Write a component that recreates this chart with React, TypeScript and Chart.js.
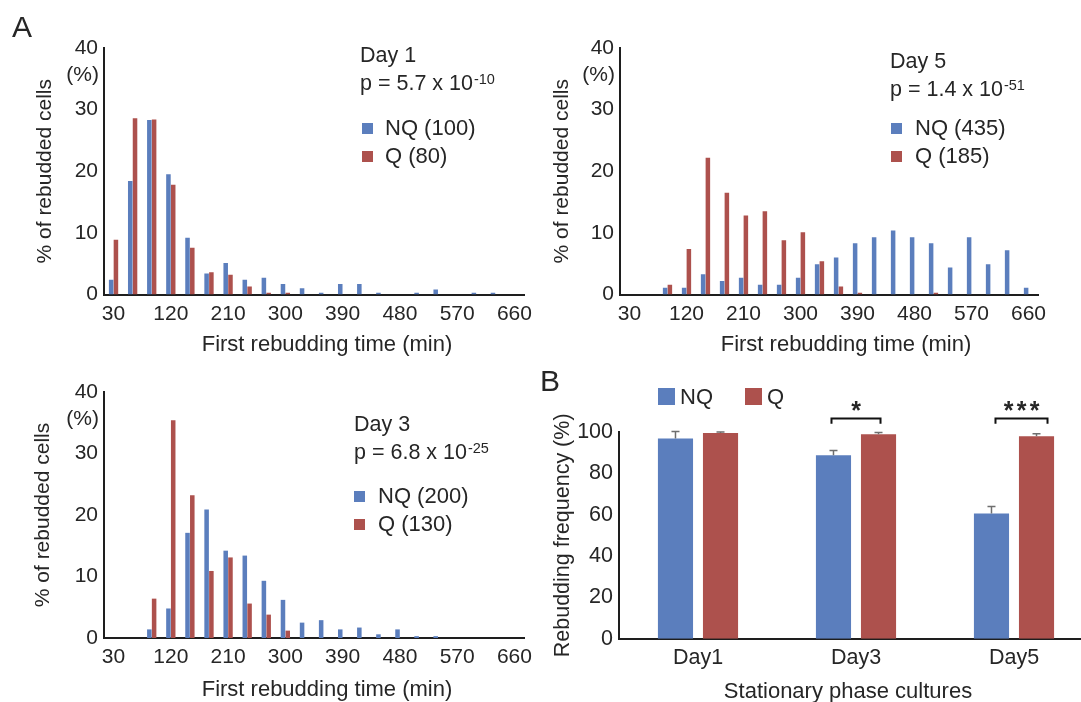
import React, { useEffect, useRef } from 'react';
import { Chart, registerables } from 'chart.js';

Chart.register(...registerables);

const FONT = '"Liberation Sans", Arial, Helvetica, sans-serif';
const TEXT = '#262626';
const AXIS = '#1e1e1e';
const BLUE = '#5b7ebd';
const RED = '#ad514d';
const ERR = '#6e6e6e';

// ---- Panel A data: % of rebudded cells per 30-min bin ----
const timeBins = ['30', '60', '90', '120', '150', '180', '210', '240', '270', '300', '330', '360', '390', '420', '450', '480', '510', '540', '570', '600', '630', '660'];
const histTicks = [0, 10, 20, 30, 40];

const day1NQ = [2.4, 18.4, 28.3, 19.5, 9.2, 3.4, 5.1, 2.4, 2.7, 1.7, 1.0, 0.3, 1.7, 1.7, 0.3, 0, 0.3, 0.8, 0, 0.3, 0.3, 0];
const day1Q = [8.9, 28.6, 28.4, 17.8, 7.6, 3.6, 3.2, 1.3, 0.3, 0.3, 0, 0, 0, 0, 0, 0, 0, 0, 0, 0, 0, 0];

const day5NQ = [0, 0, 1.1, 1.1, 3.3, 2.2, 2.7, 1.6, 1.6, 2.7, 4.9, 6.0, 8.3, 9.3, 10.4, 9.3, 8.3, 4.4, 9.3, 4.9, 7.2, 1.1];
const day5Q = [0, 0, 1.6, 7.4, 22.2, 16.5, 12.8, 13.5, 8.8, 10.1, 5.4, 1.3, 0.3, 0, 0, 0, 0.3, 0, 0, 0, 0, 0];

const day3NQ = [0, 0, 1.4, 4.8, 17.1, 20.9, 14.2, 13.4, 9.3, 6.2, 2.5, 2.9, 1.4, 1.7, 0.6, 1.4, 0.3, 0.3, 0, 0, 0, 0];
const day3Q = [0, 0, 6.4, 35.4, 23.2, 10.9, 13.1, 5.6, 3.8, 1.2, 0, 0, 0, 0, 0, 0, 0, 0, 0, 0, 0, 0];

// ---- Panel B data: rebudding frequency (%) ----
const stationaryDays = ['Day1', 'Day3', 'Day5'];
const freqNQ = [96.8, 88.7, 60.6];
const freqNQErr = [3.4, 2.4, 3.3];
const freqQ = [99.5, 98.9, 97.9];
const freqQErr = [0.5, 0.8, 1.3];
const freqTicks = [0, 20, 40, 60, 80, 100];
const signif = ['', '*', '***'];

function drawText(ctx: CanvasRenderingContext2D, s: string, x: number, y: number, size: number, align: CanvasTextAlign = 'left', baseline: CanvasTextBaseline = 'middle', weight = 'normal') {
  ctx.font = `${weight} ${size}px ${FONT}`;
  ctx.fillStyle = TEXT;
  ctx.textAlign = align;
  ctx.textBaseline = baseline;
  ctx.fillText(s, x, y);
}

type Box = { left: number; top: number; width: number; height: number };
type Area = { left: number; top: number; right: number; bottom: number };

interface HistSpec {
  box: Box;
  area: Area;
  yTitleX: number;
  xTitle: { x: number; y: number };
  nq: number[];
  q: number[];
  nqLabel: string;
  qLabel: string;
  dayText: string;
  pBase: string;
  pSup: string;
  ann: { x: number; dayY: number; pY: number; sqX: number; sqY1: number; sqY2: number; legX: number };
  panelLetter?: { text: string; x: number; y: number };
}

function histConfig(s: HistSpec): any {
  const { box, area } = s;
  const overlay = {
    id: 'overlay-' + s.dayText.replace(' ', ''),
    afterDraw(chart: any) {
      const ctx: CanvasRenderingContext2D = chart.ctx;
      const ca = chart.chartArea;
      ctx.save();
      drawText(ctx, '(%)', ca.left - 5, ca.top + 27, 21, 'right');
      ctx.translate(-box.left, -box.top);
      drawText(ctx, 'First rebudding time (min)', s.xTitle.x, s.xTitle.y, 22, 'center');
      const a = s.ann;
      drawText(ctx, s.dayText, a.x, a.dayY, 21.5);
      drawText(ctx, s.pBase, a.x, a.pY + 7.5, 21.5, 'left', 'alphabetic');
      ctx.font = `21.5px ${FONT}`;
      const w = ctx.measureText(s.pBase).width;
      drawText(ctx, s.pSup, a.x + w + 1, a.pY + 1, 14.5, 'left', 'alphabetic');
      ctx.fillStyle = BLUE;
      ctx.fillRect(a.sqX, a.sqY1, 11, 11);
      ctx.fillStyle = RED;
      ctx.fillRect(a.sqX, a.sqY2, 11, 11);
      drawText(ctx, s.nqLabel, a.legX, a.sqY1 + 5.5, 22);
      drawText(ctx, s.qLabel, a.legX, a.sqY2 + 5.5, 22);
      if (s.panelLetter) drawText(ctx, s.panelLetter.text, s.panelLetter.x, s.panelLetter.y, 30, 'center');
      ctx.restore();
    },
  };
  return {
    type: 'bar',
    data: {
      labels: timeBins,
      datasets: [
        { label: s.nqLabel, data: s.nq, backgroundColor: BLUE, categoryPercentage: 0.5, barPercentage: 0.95 },
        { label: s.qLabel, data: s.q, backgroundColor: RED, categoryPercentage: 0.5, barPercentage: 0.95 },
      ],
    },
    options: {
      responsive: false,
      animation: false,
      layout: { padding: { left: 0, top: area.top - box.top, right: box.left + box.width - area.right, bottom: 0 } },
      plugins: { legend: { display: false }, tooltip: { enabled: false } },
      scales: {
        x: {
          type: 'category',
          offset: true,
          grid: { display: false, drawTicks: false },
          border: { display: true, color: AXIS, width: 2 },
          ticks: {
            autoSkip: false,
            maxRotation: 0,
            minRotation: 0,
            padding: 7,
            color: TEXT,
            font: { family: FONT, size: 21 },
            callback: (_v: any, i: number) => (i % 3 === 0 ? timeBins[i] : ''),
          },
          title: { display: false, text: 'First rebudding time (min)' },
          afterFit: (sc: any) => {
            sc.height = box.top + box.height - area.bottom;
          },
        },
        y: {
          min: 0,
          max: 40,
          afterBuildTicks: (sc: any) => {
            sc.ticks = histTicks.map((v) => ({ value: v }));
          },
          grid: { display: false, drawTicks: false },
          border: { display: true, color: AXIS, width: 2 },
          ticks: { padding: 6, color: TEXT, font: { family: FONT, size: 21 } },
          title: {
            display: true,
            text: '% of rebudded cells',
            color: TEXT,
            font: { family: FONT, size: 21, lineHeight: 1 },
            padding: { top: s.yTitleX - box.left - 10.5, bottom: 0 },
          },
          afterFit: (sc: any) => {
            sc.width = area.left - box.left;
          },
        },
      },
    },
    plugins: [overlay],
  };
}

const boxB: Box = { left: 530, top: 365, width: 570, height: 337 };
const areaB: Area = { left: 619, top: 432, right: 1093, bottom: 638.7 };

function freqConfig(): any {
  const box = boxB;
  const area = areaB;
  const overlay = {
    id: 'overlay-freq',
    afterDatasetsDraw(chart: any) {
      const ctx: CanvasRenderingContext2D = chart.ctx;
      const ys = chart.scales.y;
      ctx.save();
      ctx.strokeStyle = ERR;
      ctx.lineWidth = 1.5;
      const sets: [number, number[], number[]][] = [
        [0, freqNQ, freqNQErr],
        [1, freqQ, freqQErr],
      ];
      sets.forEach(([di, vals, errs]) => {
        chart.getDatasetMeta(di).data.forEach((bar: any, i: number) => {
          const yTop = ys.getPixelForValue(vals[i] + errs[i]);
          ctx.beginPath();
          ctx.moveTo(bar.x, bar.y);
          ctx.lineTo(bar.x, yTop);
          ctx.moveTo(bar.x - 4, yTop);
          ctx.lineTo(bar.x + 4, yTop);
          ctx.stroke();
        });
      });
      ctx.restore();
    },
    afterDraw(chart: any) {
      const ctx: CanvasRenderingContext2D = chart.ctx;
      const ys = chart.scales.y;
      ctx.save();
      // significance brackets
      const m0 = chart.getDatasetMeta(0).data;
      const m1 = chart.getDatasetMeta(1).data;
      signif.forEach((st, i) => {
        if (!st) return;
        const x0 = m0[i].x - 2 + (i === 2 ? 6 : 0);
        const x1 = m1[i].x + 2 + (i === 2 ? 9 : 0);
        const top = ys.getPixelForValue(106.5);
        const foot = ys.getPixelForValue(104);
        ctx.strokeStyle = '#111';
        ctx.lineWidth = 2;
        ctx.beginPath();
        ctx.moveTo(x0, foot);
        ctx.lineTo(x0, top);
        ctx.lineTo(x1, top);
        ctx.lineTo(x1, foot);
        ctx.stroke();
        const cx = (x0 + x1) / 2;
        const n = st.length;
        for (let k = 0; k < n; k++) {
          drawText(ctx, '*', cx + (k - (n - 1) / 2) * 13, top, 25, 'center', 'alphabetic', 'bold');
        }
      });
      // legend + titles + panel letter (page coordinates)
      ctx.translate(-box.left, -box.top);
      ctx.fillStyle = BLUE;
      ctx.fillRect(658, 388, 17, 17);
      ctx.fillStyle = RED;
      ctx.fillRect(745, 388, 17, 17);
      drawText(ctx, 'NQ', 680, 397.5, 22);
      drawText(ctx, 'Q', 767, 397.5, 22);
      drawText(ctx, 'Stationary phase cultures', 848, 692, 22, 'center');
      drawText(ctx, 'B', 550, 383, 30, 'center');
      ctx.restore();
    },
  };
  return {
    type: 'bar',
    data: {
      labels: stationaryDays,
      datasets: [
        { label: 'NQ', data: freqNQ, backgroundColor: BLUE, categoryPercentage: 0.57, barPercentage: 0.78 },
        { label: 'Q', data: freqQ, backgroundColor: RED, categoryPercentage: 0.57, barPercentage: 0.78 },
      ],
    },
    options: {
      responsive: false,
      animation: false,
      layout: { padding: { left: 0, top: area.top - box.top, right: box.left + box.width - area.right, bottom: 0 } },
      plugins: { legend: { display: false }, tooltip: { enabled: false } },
      scales: {
        x: {
          type: 'category',
          offset: true,
          grid: { display: false, drawTicks: false },
          border: { display: true, color: AXIS, width: 2 },
          ticks: { padding: 6, color: TEXT, font: { family: FONT, size: 21.5 } },
          title: { display: false, text: 'Stationary phase cultures' },
          afterFit: (sc: any) => {
            sc.height = box.top + box.height - area.bottom;
          },
        },
        y: {
          min: 0,
          max: 100,
          afterBuildTicks: (sc: any) => {
            sc.ticks = freqTicks.map((v) => ({ value: v }));
          },
          grid: { display: false, drawTicks: false },
          border: { display: true, color: AXIS, width: 2 },
          ticks: { padding: 6, color: TEXT, font: { family: FONT, size: 21.5 } },
          title: {
            display: true,
            text: 'Rebudding frequency (%)',
            color: TEXT,
            font: { family: FONT, size: 21.5, lineHeight: 1 },
            padding: { top: 563 - box.left - 10.75, bottom: 0 },
          },
          afterFit: (sc: any) => {
            sc.width = area.left - box.left;
          },
        },
      },
    },
    plugins: [overlay],
  };
}

const day1Spec: HistSpec = {
  box: { left: 0, top: 0, width: 540, height: 365 },
  area: { left: 104, top: 48, right: 524, bottom: 294.5 },
  yTitleX: 45,
  xTitle: { x: 327, y: 345 },
  nq: day1NQ,
  q: day1Q,
  nqLabel: 'NQ (100)',
  qLabel: 'Q (80)',
  dayText: 'Day 1',
  pBase: 'p = 5.7 x 10',
  pSup: '-10',
  ann: { x: 360, dayY: 56, pY: 82.5, sqX: 362, sqY1: 123, sqY2: 151, legX: 385 },
  panelLetter: { text: 'A', x: 22, y: 29 },
};

const day5Spec: HistSpec = {
  box: { left: 540, top: 0, width: 541, height: 365 },
  area: { left: 620, top: 48, right: 1038, bottom: 294.5 },
  yTitleX: 562,
  xTitle: { x: 846, y: 345 },
  nq: day5NQ,
  q: day5Q,
  nqLabel: 'NQ (435)',
  qLabel: 'Q (185)',
  dayText: 'Day 5',
  pBase: 'p = 1.4 x 10',
  pSup: '-51',
  ann: { x: 890, dayY: 62, pY: 88.5, sqX: 891, sqY1: 123, sqY2: 151, legX: 915 },
};

const day3Spec: HistSpec = {
  box: { left: 0, top: 365, width: 540, height: 337 },
  area: { left: 104, top: 392, right: 524, bottom: 638 },
  yTitleX: 43,
  xTitle: { x: 327, y: 690 },
  nq: day3NQ,
  q: day3Q,
  nqLabel: 'NQ (200)',
  qLabel: 'Q (130)',
  dayText: 'Day 3',
  pBase: 'p = 6.8 x 10',
  pSup: '-25',
  ann: { x: 354, dayY: 425, pY: 451.5, sqX: 354, sqY1: 491, sqY2: 519, legX: 378 },
};

function ChartCanvas({ box, make }: { box: Box; make: () => any }) {
  const ref = useRef<HTMLCanvasElement | null>(null);
  useEffect(() => {
    if (!ref.current) return;
    const chart = new Chart(ref.current, make());
    return () => chart.destroy();
  }, []);
  return (
    <canvas
      ref={ref}
      width={box.width}
      height={box.height}
      style={{ position: 'absolute', left: box.left, top: box.top, width: box.width, height: box.height }}
    />
  );
}

export default function App() {
  return (
    <div style={{ position: 'fixed', left: 0, top: 0, width: 1081, height: 702, overflow: 'hidden', background: '#ffffff' }}>
      <ChartCanvas box={day1Spec.box} make={() => histConfig(day1Spec)} />
      <ChartCanvas box={day5Spec.box} make={() => histConfig(day5Spec)} />
      <ChartCanvas box={day3Spec.box} make={() => histConfig(day3Spec)} />
      <ChartCanvas box={boxB} make={freqConfig} />
    </div>
  );
}
